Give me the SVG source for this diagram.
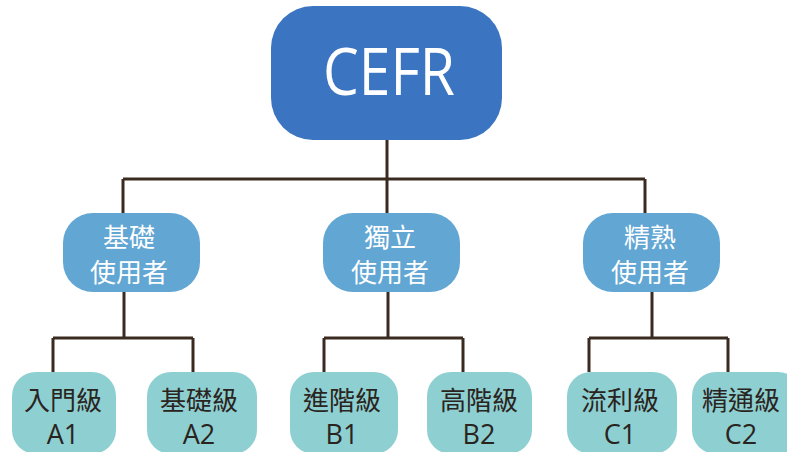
<svg xmlns="http://www.w3.org/2000/svg" width="787" height="452" viewBox="0 0 787 452">
<style>
.ln{stroke:#3b2a1f;stroke-width:3;fill:none}
.top{fill:#3b74c1}
.mid{fill:#62a6d4}
.bot{fill:#8ecfd1}
.tt{font-family:"Open Sans","Noto Sans",sans-serif;fill:#ffffff;font-size:66px;text-anchor:middle}
.mt{font-family:"Noto Sans CJK TC","Noto Sans",sans-serif;fill:#ffffff;font-size:26px;text-anchor:middle}
.bt{font-family:"Noto Sans CJK TC","Noto Sans",sans-serif;fill:#2a2420;font-size:26px;text-anchor:middle}
.bl{font-family:"Open Sans","Noto Sans",sans-serif;fill:#2a2420;font-size:27px;text-anchor:middle}
</style>
<rect width="787" height="452" fill="#ffffff"/>
<g id="connectors">
<path class="ln" d="M387 140V179M123 179H645M123 179V213M387 179V213M645 179V213"/>
<path class="ln" d="M124 292V338M53 338H193M53 338V372M193 338V372"/>
<path class="ln" d="M388 292V338M324 338H463M324 338V372M463 338V372"/>
<path class="ln" d="M652 292V338M589 338H728M589 338V372M728 338V372"/>
</g>
<g id="cefr">
<rect class="top" x="271" y="6" width="231" height="134" rx="42"/>
<text class="tt" x="389" y="95" textLength="132" lengthAdjust="spacingAndGlyphs">CEFR</text>
</g>
<g id="basic">
<rect class="mid" x="63" y="213" width="137" height="79" rx="30"/>
<text class="mt" x="129" y="247">基礎</text>
<text class="mt" x="129" y="282">使用者</text>
</g>
<g id="independent">
<rect class="mid" x="323" y="213" width="137" height="79" rx="30"/>
<text class="mt" x="390" y="247">獨立</text>
<text class="mt" x="390" y="282">使用者</text>
</g>
<g id="proficient">
<rect class="mid" x="583" y="213" width="137" height="79" rx="30"/>
<text class="mt" x="650" y="247">精熟</text>
<text class="mt" x="650" y="282">使用者</text>
</g>
<g id="a1">
<rect class="bot" x="12" y="372" width="104" height="82" rx="24"/>
<text class="bt" x="63" y="410">入門級</text>
<text class="bl" x="63" y="444">A1</text>
</g>
<g id="a2">
<rect class="bot" x="147" y="372" width="110" height="82" rx="24"/>
<text class="bt" x="199" y="410">基礎級</text>
<text class="bl" x="199" y="444">A2</text>
</g>
<g id="b1">
<rect class="bot" x="290" y="372" width="108" height="82" rx="24"/>
<text class="bt" x="342" y="410">進階級</text>
<text class="bl" x="342" y="444">B1</text>
</g>
<g id="b2">
<rect class="bot" x="427" y="372" width="105" height="82" rx="24"/>
<text class="bt" x="479" y="410">高階級</text>
<text class="bl" x="479" y="444">B2</text>
</g>
<g id="c1">
<rect class="bot" x="567" y="372" width="110" height="82" rx="24"/>
<text class="bt" x="620" y="410">流利級</text>
<text class="bl" x="620" y="444">C1</text>
</g>
<g id="c2">
<rect class="bot" x="692" y="372" width="110" height="82" rx="24"/>
<text class="bt" x="741" y="410">精通級</text>
<text class="bl" x="741" y="444">C2</text>
</g>
</svg>
